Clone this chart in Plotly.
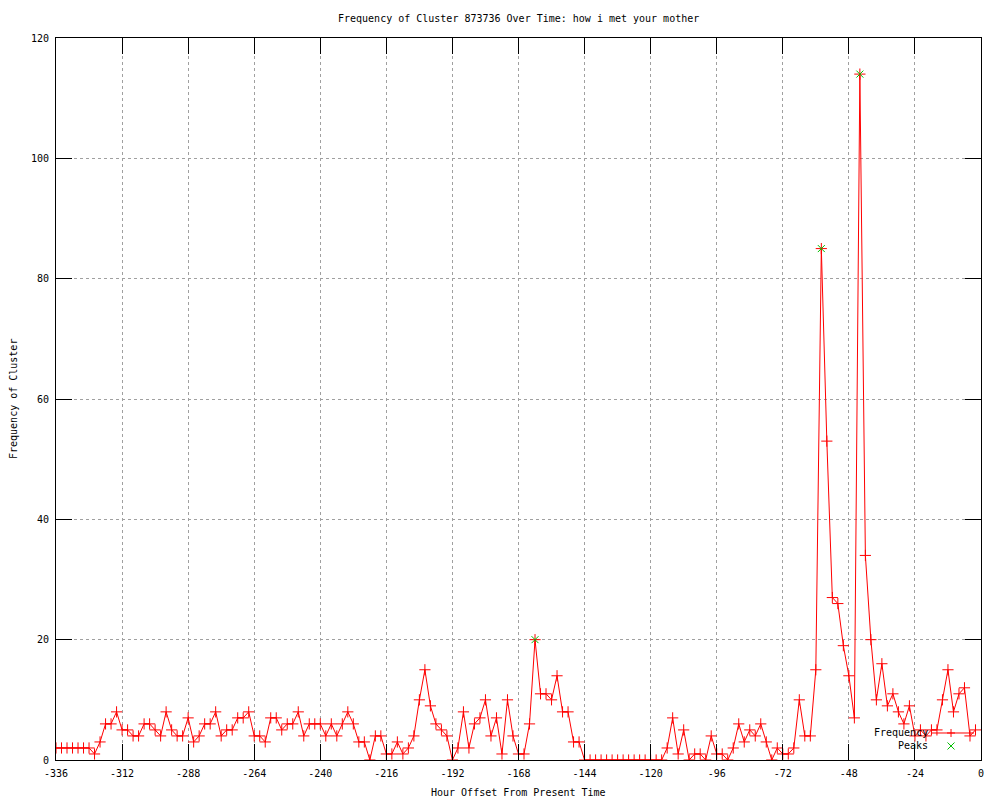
import plotly.graph_objects as go

# ---- data ----
hours = [-336, -334, -332, -330, -328, -326, -324, -322, -320, -318, -316, -314,
         -312, -310, -308, -306, -304, -302, -300, -298, -296, -294, -292, -290,
         -288, -286, -284, -282, -280, -278, -276, -274, -272, -270, -268, -266,
         -264, -262, -260, -258, -256, -254, -252, -250, -248, -246, -244, -242,
         -240, -238, -236, -234, -232, -230, -228, -226, -224, -222, -220, -218,
         -216, -214, -212, -210, -208, -206, -204, -202, -200, -198, -196, -194,
         -192, -190, -188, -186, -184, -182, -180, -178, -176, -174, -172, -170,
         -168, -166, -164, -162, -160, -158, -156, -154, -152, -150, -148, -146,
         -144, -142, -140, -138, -136, -134, -132, -130, -128, -126, -124, -122,
         -120, -118, -116, -114, -112, -110, -108, -106, -104, -102, -100, -98,
         -96, -94, -92, -90, -88, -86, -84, -82, -80, -78, -76, -74,
         -72, -70, -68, -66, -64, -62, -60, -58, -56, -54, -52, -50,
         -48, -46, -44, -42, -40, -38, -36, -34, -32, -30, -28, -26,
         -24, -22, -20, -18, -16, -14, -12, -10, -8, -6, -4, -2]

frequency = [2, 2, 2, 2, 2, 2, 2, 1, 3, 6, 6, 8,
             5, 5, 4, 4, 6, 6, 5, 4, 8, 5, 4, 4,
             7, 3, 4, 6, 6, 8, 4, 5, 5, 7, 7, 8,
             4, 4, 3, 7, 7, 5, 6, 6, 8, 4, 6, 6,
             6, 4, 6, 4, 6, 8, 6, 3, 3, 0, 4, 4,
             1, 1, 3, 1, 2, 4, 10, 15, 9, 6, 5, 4,
             0, 2, 8, 2, 6, 7, 10, 4, 7, 1, 10, 4,
             1, 1, 6, 20, 11, 11, 10, 14, 8, 8, 3, 3,
             0, 0, 0, 0, 0, 0, 0, 0, 0, 0, 0, 0,
             0, 0, 0, 2, 7, 1, 5, 0, 1, 1, 0, 4,
             1, 1, 0, 2, 6, 3, 5, 4, 6, 3, 0, 2,
             1, 1, 2, 10, 4, 4, 15, 85, 53, 27, 26, 19,
             14, 7, 114, 34, 20, 10, 16, 9, 11, 8, 6, 9,
             4, 5, 4, 5, 5, 10, 15, 8, 11, 12, 4, 5]

peak_hours = [-162, -58, -44]
peak_values = [20, 85, 114]

x_ticks = [-336, -312, -288, -264, -240, -216, -192, -168, -144, -120, -96, -72, -48, -24, 0]
y_ticks = [0, 20, 40, 60, 80, 100, 120]

title_text = "Frequency of Cluster 873736 Over Time: how i met your mother"
x_title = "Hour Offset From Present Time"
y_title = "Frequency of Cluster"
series_names = ["Frequency", "Peaks"]

RED = "#ff0000"
GREEN = "#00c000"
FONT = dict(family="DejaVu Sans Mono", size=10, color="black")

fig = go.Figure()
fig.add_trace(go.Scatter(
    x=hours, y=frequency, mode="lines+markers", name=series_names[0],
    line=dict(color=RED, width=1),
    marker=dict(symbol="cross-thin", size=8, line=dict(color=RED, width=1), color=RED),
))
fig.add_trace(go.Scatter(
    x=peak_hours, y=peak_values, mode="markers", name=series_names[1],
    marker=dict(symbol="x-thin", size=7, line=dict(color=GREEN, width=1), color=GREEN),
))

axis_common = dict(
    showline=True, linecolor="black", linewidth=1, mirror="ticks",
    ticks="inside", ticklen=16, tickcolor="black", tickwidth=1,
    showgrid=True, gridcolor="#a0a0a0", griddash="dot", gridwidth=1,
    zeroline=False, tickfont=FONT,
)

fig.update_xaxes(range=[-336, 0], tickvals=x_ticks, ticktext=[str(v) for v in x_ticks],
                 ticklabelstandoff=4, **axis_common)
fig.update_yaxes(range=[0, 120], tickvals=y_ticks, ticktext=[str(v) for v in y_ticks],
                 ticklabelstandoff=4, **axis_common)

# legend drawn gnuplot-style (text right-aligned, sample on the right)
leg_text_x = 0.9449
leg_y1 = 0.0374
leg_y2 = 0.0194
leg_mid_x = 0.9676
annotations = [
    dict(text=title_text, xref="paper", yref="paper", x=0.5, y=(760 - 18) / 722,
         xanchor="center", yanchor="middle", showarrow=False, font=FONT),
    dict(text=x_title, xref="paper", yref="paper", x=0.5, y=(760 - 792) / 722,
         xanchor="center", yanchor="middle", showarrow=False, font=FONT),
    dict(text=y_title, xref="paper", yref="paper", x=(13 - 56) / 925, y=0.5,
         xanchor="center", yanchor="middle", showarrow=False, font=FONT, textangle=-90),
    dict(text=series_names[0], xref="paper", yref="paper", x=leg_text_x, y=leg_y1,
         xanchor="right", yanchor="middle", showarrow=False, font=FONT),
    dict(text=series_names[1], xref="paper", yref="paper", x=leg_text_x, y=leg_y2,
         xanchor="right", yanchor="middle", showarrow=False, font=FONT),
]
shapes = [
    dict(type="line", xref="paper", yref="paper", x0=0.947, x1=0.9924, y0=leg_y1, y1=leg_y1,
         line=dict(color=RED, width=1)),
    dict(type="line", xref="paper", yref="paper", xsizemode="pixel", xanchor=leg_mid_x,
         x0=-4, x1=4, y0=leg_y1, y1=leg_y1, line=dict(color=RED, width=1)),
    dict(type="line", xref="paper", yref="paper", ysizemode="pixel", yanchor=leg_y1,
         x0=leg_mid_x, x1=leg_mid_x, y0=-4, y1=4, line=dict(color=RED, width=1)),
    dict(type="line", xref="paper", yref="paper", xsizemode="pixel", ysizemode="pixel",
         xanchor=leg_mid_x, yanchor=leg_y2, x0=-3.5, x1=3.5, y0=-3.5, y1=3.5,
         line=dict(color=GREEN, width=1)),
    dict(type="line", xref="paper", yref="paper", xsizemode="pixel", ysizemode="pixel",
         xanchor=leg_mid_x, yanchor=leg_y2, x0=-3.5, x1=3.5, y0=3.5, y1=-3.5,
         line=dict(color=GREEN, width=1)),
]

# the page body adds an 8px offset; shrink the figure so the plot area lands
# where it sits in the reference (x 56..981, y 38..760 of the window)
fig.update_layout(
    width=992, height=792,
    margin=dict(l=48, r=19, t=30, b=40, pad=0),
    paper_bgcolor="white", plot_bgcolor="white",
    showlegend=False, font=FONT,
    annotations=annotations, shapes=shapes,
)

fig.write_html("out.html")
